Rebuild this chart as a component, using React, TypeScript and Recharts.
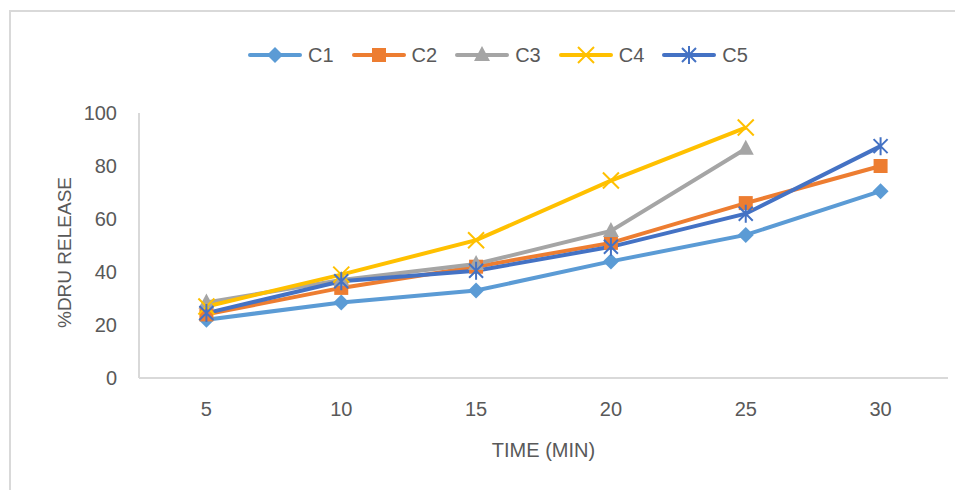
import { LineChart, Line, XAxis, YAxis } from 'recharts';

const times = [5, 10, 15, 20, 25, 30];
const c1 = [22, 28.5, 33, 44, 54, 70.5];
const c2 = [24, 34, 42, 51, 66, 80];
const c3 = [28.5, 37, 43, 55.5, 86.5, null];
const c4 = [27, 39, 52, 74.5, 94.5, null];
const c5 = [24.5, 36.5, 40.5, 49.5, 62, 87.5];
const yTicks = [0, 20, 40, 60, 80, 100];

const data = times.map((t, i) => ({ t, C1: c1[i], C2: c2[i], C3: c3[i], C4: c4[i], C5: c5[i] }));

const FONT = '"Liberation Sans", Arial, sans-serif';
const TEXT = '#595959';
const AXIS = '#d9d9d9';

type Shape = 'diamond' | 'square' | 'triangle' | 'x' | 'star';

const series: { key: string; color: string; shape: Shape }[] = [
  { key: 'C1', color: '#5B9BD5', shape: 'diamond' },
  { key: 'C2', color: '#ED7D31', shape: 'square' },
  { key: 'C3', color: '#A5A5A5', shape: 'triangle' },
  { key: 'C4', color: '#FFC000', shape: 'x' },
  { key: 'C5', color: '#4472C4', shape: 'star' },
];

function marker(shape: Shape, cx: number, cy: number, color: string, key?: string) {
  switch (shape) {
    case 'diamond':
      return <path key={key} d={`M${cx},${cy - 8}L${cx + 8},${cy}L${cx},${cy + 8}L${cx - 8},${cy}Z`} fill={color} />;
    case 'square':
      return <rect key={key} x={cx - 7} y={cy - 7} width={14} height={14} fill={color} />;
    case 'triangle':
      return <path key={key} d={`M${cx},${cy - 9}L${cx + 8},${cy + 6}L${cx - 8},${cy + 6}Z`} fill={color} />;
    case 'x':
      return (
        <path key={key} d={`M${cx - 8},${cy - 8}L${cx + 8},${cy + 8}M${cx + 8},${cy - 8}L${cx - 8},${cy + 8}`} stroke={color} strokeWidth={2} />
      );
    default:
      return (
        <path
          key={key}
          d={`M${cx - 7},${cy - 7}L${cx + 7},${cy + 7}M${cx + 7},${cy - 7}L${cx - 7},${cy + 7}M${cx},${cy - 9}L${cx},${cy + 9}`}
          stroke={color}
          strokeWidth={2}
        />
      );
  }
}

export default function App() {
  return (
    <div style={{ position: 'relative', width: 955, height: 482, fontFamily: FONT }}>
      <div
        style={{
          position: 'absolute',
          left: 1,
          top: 2,
          right: 0,
          bottom: 0,
          borderTop: `2px solid ${AXIS}`,
          borderLeft: `2px solid ${AXIS}`,
        }}
      />
      <div style={{ position: 'absolute', left: 240, top: 37, display: 'flex', alignItems: 'center', height: 20 }}>
        {series.map((s) => (
          <div key={s.key} style={{ display: 'flex', alignItems: 'center', marginRight: 18 }}>
            <svg width={54} height={20}>
              <line x1={2} y1={10} x2={52} y2={10} stroke={s.color} strokeWidth={4} strokeLinecap="round" />
              {marker(s.shape, 27, 10, s.color)}
            </svg>
            <span style={{ marginLeft: 6, fontSize: 20, color: TEXT }}>{s.key}</span>
          </div>
        ))}
      </div>
      <LineChart
        width={955}
        height={482}
        data={data}
        margin={{ top: 105, right: 15, bottom: 0, left: 0 }}
        style={{ position: 'absolute', left: 0, top: 0 }}
      >
        <XAxis
          dataKey="t"
          type="number"
          domain={[2.5, 32.5]}
          ticks={times}
          height={112}
          tickLine={false}
          tickSize={0}
          tickMargin={24}
          stroke={AXIS}
          strokeWidth={2}
          tick={{ fill: TEXT, fontSize: 20, fontFamily: FONT }}
          label={(props: any) => {
            const vb = props.viewBox;
            return (
              <text x={vb.x + vb.width / 2} y={vb.y + 79} textAnchor="middle" fill={TEXT} fontSize={20} fontFamily={FONT}>
                TIME (MIN)
              </text>
            );
          }}
        />
        <YAxis
          domain={[0, 100]}
          ticks={yTicks}
          width={131}
          tickLine={false}
          tickSize={0}
          tickMargin={22}
          stroke={AXIS}
          strokeWidth={2}
          tick={{ fill: TEXT, fontSize: 20, fontFamily: FONT }}
          label={(props: any) => {
            const vb = props.viewBox;
            const x = vb.x + 63;
            const y = vb.y + vb.height / 2 + 7;
            return (
              <text x={x} y={y} transform={`rotate(-90 ${x} ${y})`} textAnchor="middle" fill={TEXT} fontSize={19} fontFamily={FONT}>
                %DRU RELEASE
              </text>
            );
          }}
        />
        {series.map((s) => (
          <Line
            key={s.key}
            dataKey={s.key}
            stroke={s.color}
            strokeWidth={4}
            isAnimationActive={false}
            activeDot={false}
            dot={(p: any) => (p.value == null ? <g key={`${s.key}-${p.index}`} /> : marker(s.shape, p.cx, p.cy, s.color, `${s.key}-${p.index}`))}
          />
        ))}
      </LineChart>
    </div>
  );
}
